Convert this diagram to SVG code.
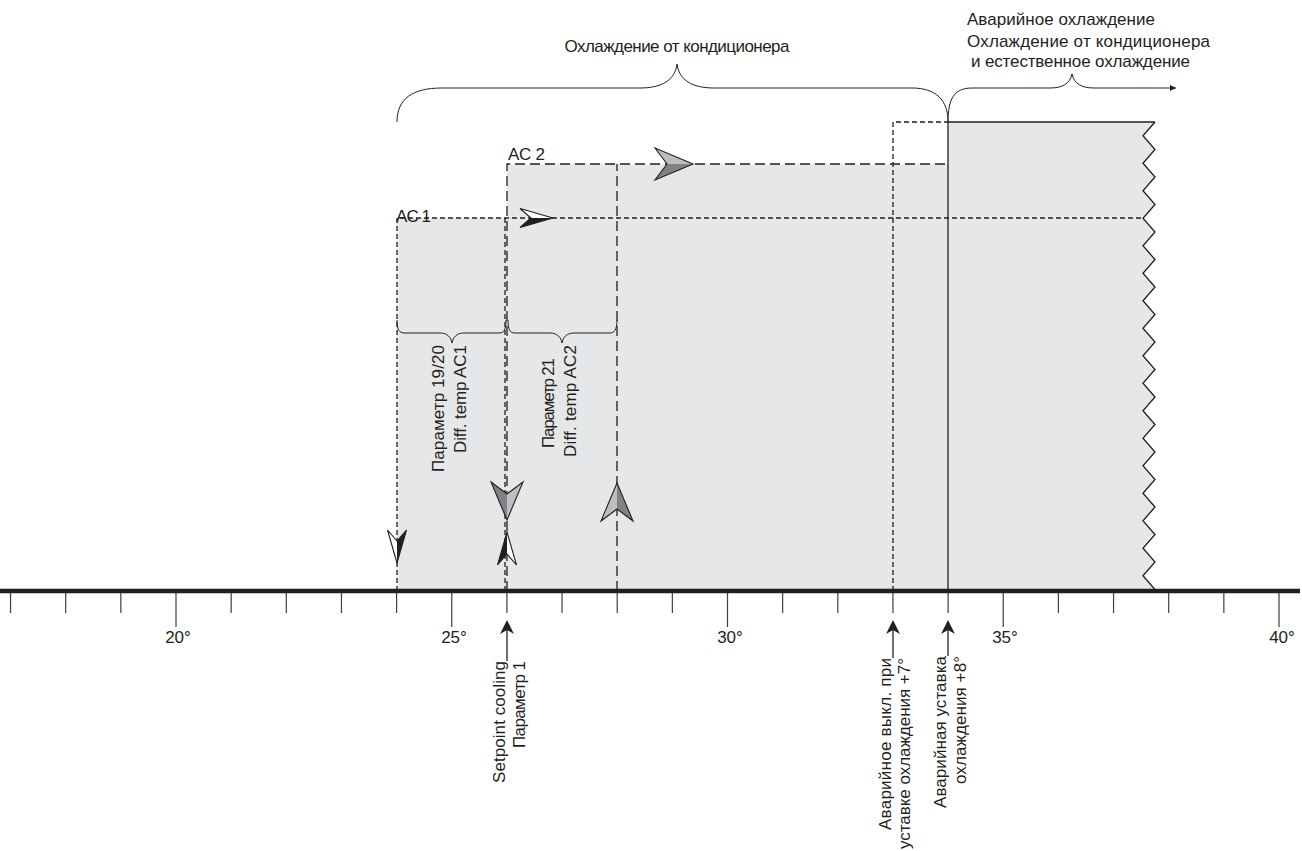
<svg xmlns="http://www.w3.org/2000/svg" xmlns:xlink="http://www.w3.org/1999/xlink" width="1302" height="851" viewBox="0 0 1302 851">
  <style>
    .txt { font-family: "Liberation Sans", Arial, sans-serif; font-size: 17px; fill: #231f20; }
    .mid { text-anchor: middle; }
    .end { text-anchor: end; }
    .line { fill: none; stroke: #231f20; stroke-width: 1.3; }
    .thin { fill: none; stroke: #231f20; stroke-width: 1; }
    .dshort { fill: none; stroke: #231f20; stroke-width: 1.3; stroke-dasharray: 5 3; }
    .dlong { fill: none; stroke: #231f20; stroke-width: 1.3; stroke-dasharray: 10 5; }
    .tick { fill: none; stroke: #414042; stroke-width: 1.2; }
    .zone { fill: #e6e7e8; stroke: none; }
  </style>
  <defs>
    <!-- split arrowhead, grey halves, tip at origin pointing right -->
    <g id="headGrey">
      <path d="M0,0 L-38,-16 L-26,0 Z" fill="#bcbec0"/>
      <path d="M0,0 L-26,0 L-38,16 Z" fill="#808285"/>
      <path d="M0,0 L-38,-16 L-26,0 L-38,16 Z" fill="none" stroke="#231f20" stroke-width="1.1"/>
    </g>
    <!-- split arrowhead, white / black halves -->
    <g id="headBW">
      <path d="M0,0 L-33,-9.5 L-22,0 Z" fill="#ffffff"/>
      <path d="M0,0 L-22,0 L-33,9.5 Z" fill="#231f20"/>
      <path d="M0,0 L-33,-9.5 L-22,0 L-33,9.5 Z" fill="none" stroke="#231f20" stroke-width="1.1"/>
    </g>
    <!-- solid pointer used under the axis -->
    <path id="pointer" d="M0,0 L-14,-7 L-10,0 L-14,7 Z" fill="#231f20"/>
    <marker id="tipSmall" markerWidth="8" markerHeight="8" refX="6" refY="3" orient="auto" markerUnits="userSpaceOnUse">
      <path d="M0,0 L6,3 L0,6 Z" fill="#231f20"/>
    </marker>
  </defs>

  <!-- shaded cooling zone with torn right edge -->
  <g id="zone">
    <path class="zone" d="M397,591 V218 H507 V164 H948 V122 H1155
      l-12,13.75 l12,13.75 l-12,13.75 l12,13.75 l-12,13.75 l12,13.75 l-12,13.75 l12,13.75
      l-12,13.75 l12,13.75 l-12,13.75 l12,13.75 l-12,13.75 l12,13.75 l-12,13.75 l12,13.75
      l-12,13.75 l12,13.75 l-12,13.75 l12,13.75 l-12,13.75 l12,13.75 l-12,13.75 l12,13.75
      l-12,13.75 l12,13.75 l-12,13.75 l12,13.75 l-12,13.75 l12,13.75 l-12,13.75 l12,13.75
      l-12,13.75 l12,13.75 V591 H397 Z"/>
  </g>

  <!-- stage outlines -->
  <g id="connectors">
    <path class="dshort" d="M397,591 V218 H1143"/>
    <path class="dshort" d="M505,591 V218"/>
    <path class="dlong" d="M507,591 V164 H948"/>
    <path class="dlong" d="M617,591 V164"/>
    <path class="dshort" d="M893,591 V122 H948"/>
    <path class="line" d="M948,591 V122 H1155"/>
    <path class="line" d="M1155,122
      l-12,13.75 l12,13.75 l-12,13.75 l12,13.75 l-12,13.75 l12,13.75 l-12,13.75 l12,13.75
      l-12,13.75 l12,13.75 l-12,13.75 l12,13.75 l-12,13.75 l12,13.75 l-12,13.75 l12,13.75
      l-12,13.75 l12,13.75 l-12,13.75 l12,13.75 l-12,13.75 l12,13.75 l-12,13.75 l12,13.75
      l-12,13.75 l12,13.75 l-12,13.75 l12,13.75 l-12,13.75 l12,13.75 l-12,13.75 l12,13.75
      l-12,13.75 l12,13.75"/>

    <!-- braces -->
    <path class="thin" d="M397,122 C397,99 412,88 442,88 L640,88 C662,88 675,80 677,64 C679,80 692,88 714,88 L912,88 C936,88 948,100 948,122"/>
    <path class="thin" marker-end="url(#tipSmall)" d="M948,122 C948,99 954,88 972,88 L1050,88 C1062,88 1070,84 1072,74 C1074,84 1082,88 1094,88 L1176,88"/>
    <path class="thin" d="M397,320 C397,330 399,333 405,333 L440,333 C447,333 451,337 452,343 C453,337 457,333 464,333 L499,333 C504,333 506,330 506,320"/>
    <path class="thin" d="M508,320 C508,330 510,333 515,333 L550,333 C557,333 561,337 562,343 C563,337 567,333 574,333 L610,333 C614,333 617,330 617,320"/>

    <!-- direction heads -->
    <use xlink:href="#headGrey" transform="translate(693,164)"/>
    <use xlink:href="#headBW" transform="translate(553,218)"/>
    <use xlink:href="#headGrey" transform="translate(507,520) rotate(90)"/>
    <use xlink:href="#headGrey" transform="translate(617,483) rotate(-90)"/>
    <use xlink:href="#headBW" transform="translate(397,563) rotate(90) scale(1,-1)"/>
    <use xlink:href="#headBW" transform="translate(507,532) rotate(-90) scale(1,-1)"/>

    <!-- pointers to the axis -->
    <path class="line" d="M507,661 V626"/>
    <use xlink:href="#pointer" transform="translate(507,620) rotate(-90)"/>
    <path class="line" d="M893,658 V626"/>
    <use xlink:href="#pointer" transform="translate(893,620) rotate(-90)"/>
    <path class="line" d="M948,656 V626"/>
    <use xlink:href="#pointer" transform="translate(948,620) rotate(-90)"/>
  </g>

  <!-- temperature axis -->
  <g id="axis">
    <path class="tick" d="M10.55,593 V613 M65.7,593 V613 M120.85,593 V613 M176,593 V627 M231.15,593 V613 M286.3,593 V613 M341.45,593 V613 M396.6,593 V613 M451.75,593 V627 M506.9,593 V613 M562.05,593 V613 M617.2,593 V613 M672.35,593 V613 M727.5,593 V627 M782.65,593 V613 M837.8,593 V613 M892.95,593 V613 M948.1,593 V613 M1003.25,593 V627 M1058.4,593 V613 M1113.55,593 V613 M1168.7,593 V613 M1223.85,593 V613 M1279,593 V627"/>
    <line x1="0" y1="591" x2="1300" y2="591" stroke="#231f20" stroke-width="4.5"/>
    <text class="txt mid" x="178" y="643">20°</text>
    <text class="txt mid" x="454" y="643">25°</text>
    <text class="txt mid" x="730" y="643">30°</text>
    <text class="txt mid" x="1005" y="643">35°</text>
    <text class="txt mid" x="1282" y="643">40°</text>
  </g>

  <!-- range labels -->
  <g id="label-ac-cooling">
    <text class="txt mid" x="677" y="52" textLength="225">Охлаждение от кондиционера</text>
  </g>
  <g id="label-emergency">
    <text class="txt" x="967" y="25" textLength="188">Аварийное охлаждение</text>
    <text class="txt" x="967" y="47" textLength="243">Охлаждение от кондиционера</text>
    <text class="txt" x="971" y="67" textLength="219">и естественное охлаждение</text>
  </g>
  <g id="ac2">
    <text class="txt" x="508" y="160" textLength="37">AC 2</text>
  </g>
  <g id="ac1">
    <text class="txt" x="396" y="222" textLength="35">AC 1</text>
  </g>

  <!-- differentials -->
  <g id="diff-ac1">
    <text class="txt end" transform="translate(444,345) rotate(-90)" textLength="127">Параметр 19/20</text>
    <text class="txt end" transform="translate(466,345) rotate(-90)" textLength="108">Diff. temp AC1</text>
  </g>
  <g id="diff-ac2">
    <text class="txt end" transform="translate(554,358) rotate(-90)" textLength="90">Параметр 21</text>
    <text class="txt end" transform="translate(576,345) rotate(-90)" textLength="112">Diff. temp AC2</text>
  </g>

  <!-- setpoints -->
  <g id="setpoint">
    <text class="txt end" transform="translate(505,661) rotate(-90)" textLength="122">Setpoint cooling</text>
    <text class="txt end" transform="translate(525,661) rotate(-90)" textLength="87">Параметр 1</text>
  </g>
  <g id="emergency-off">
    <text class="txt end" transform="translate(891,658) rotate(-90)" textLength="172">Аварийное выкл. при</text>
    <text class="txt end" transform="translate(910,658) rotate(-90)" textLength="191">уставке охлаждения +7°</text>
  </g>
  <g id="emergency-setpoint">
    <text class="txt end" transform="translate(946,656) rotate(-90)" textLength="152">Аварийная уставка</text>
    <text class="txt end" transform="translate(966,656) rotate(-90)" textLength="128">охлаждения +8°</text>
  </g>
</svg>
